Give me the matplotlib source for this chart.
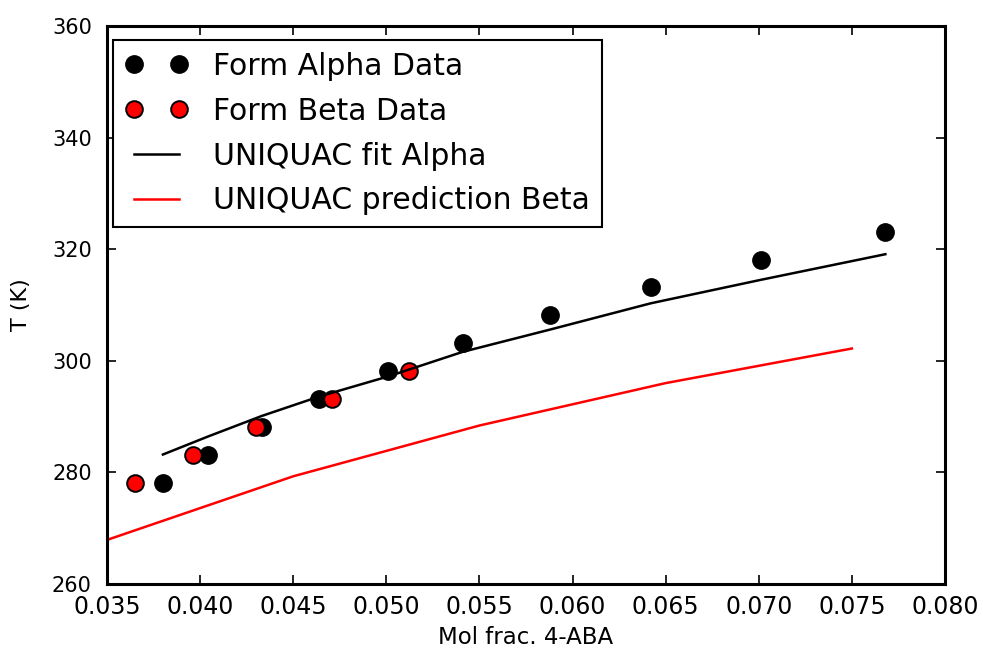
import numpy as np
import matplotlib.pyplot as plt

# solubility data for the two polymorphs (mole fraction, temperature in K)
x_alpha = [0.0380, 0.0404, 0.0433, 0.0464, 0.0501, 0.0541, 0.0588, 0.0642, 0.0701, 0.0768]
T_alpha = [278.15, 283.15, 288.15, 293.15, 298.15, 303.15, 308.15, 313.15, 318.15, 323.15]
x_beta = [0.0365, 0.0396, 0.0430, 0.0471, 0.0512]
T_beta = [278.15, 283.15, 288.15, 293.15, 298.15]

# UNIQUAC curves
x_fit_alpha = [0.0380, 0.0404, 0.0433, 0.0464, 0.0501, 0.0541, 0.0588, 0.0642, 0.0701, 0.0768]
T_fit_alpha = [283.2, 286.4, 290.1, 293.6, 297.2, 301.6, 305.6, 310.3, 314.5, 319.1]
x_pred_beta = [0.035, 0.045, 0.055, 0.065, 0.075]
T_pred_beta = [267.9, 279.3, 288.4, 296.0, 302.2]

xticks = np.arange(0.035, 0.0801, 0.005)
yticks = np.arange(260, 361, 20)

fig = plt.figure(figsize=(9.83, 6.53), dpi=100)
ax = fig.add_axes([0.1089, 0.1057, 0.8524, 0.8545])

ax.plot(x_alpha, T_alpha, 'o', color='black', markersize=12.5, label='Form Alpha Data')
ax.plot(x_beta, T_beta, 'o', color='red', markeredgecolor='black', markeredgewidth=1.4,
        markersize=12, label='Form Beta Data')
ax.plot(x_fit_alpha, T_fit_alpha, '-', color='black', linewidth=1.8, label='UNIQUAC fit Alpha')
ax.plot(x_pred_beta, T_pred_beta, '-', color='red', linewidth=1.8, label='UNIQUAC prediction Beta')

ax.set_xlim(0.035, 0.080)
ax.set_ylim(260, 360)
ax.set_xticks(xticks)
ax.set_xticklabels(['{:.3f}'.format(v) for v in xticks])
ax.set_yticks(yticks)

ax.tick_params(axis='both', which='major', direction='in', length=6.5, width=1.2,
               top=True, right=True)
ax.tick_params(axis='x', labelsize=17, pad=8)
ax.tick_params(axis='y', labelsize=15, pad=11)
for s in ax.spines.values():
    s.set_linewidth(2.2)

ax.set_xlabel('Mol frac. 4-ABA', fontsize=16.5, labelpad=5)
ax.set_ylabel('T (K)', fontsize=16, labelpad=15)

leg = ax.legend(loc='upper left', bbox_to_anchor=(0.0072, 0.9749), borderaxespad=0,
                numpoints=2, fontsize=21.5, frameon=True, fancybox=False, framealpha=1,
                edgecolor='black', handlelength=2.1, handletextpad=0.84,
                labelspacing=0.53, borderpad=0.4)
leg.get_frame().set_linewidth(1.5)

fig.savefig('out.png', dpi=100)
